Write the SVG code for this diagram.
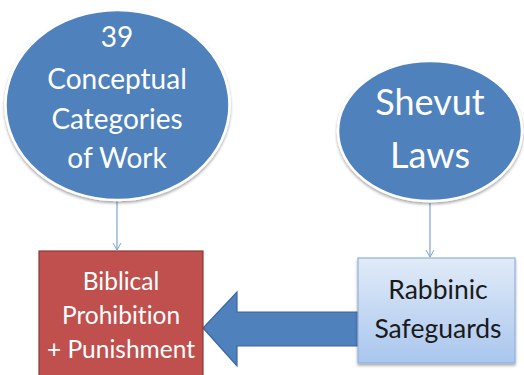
<svg xmlns="http://www.w3.org/2000/svg" width="524" height="375" viewBox="0 0 524 375">
  <defs>
    <linearGradient id="lb" x1="0" y1="0" x2="0" y2="1">
      <stop offset="0" stop-color="#e1ebf8"/>
      <stop offset="1" stop-color="#a9c6ee"/>
    </linearGradient>
    <filter id="sh" x="-10%" y="-10%" width="120%" height="125%">
      <feGaussianBlur in="SourceAlpha" stdDeviation="1.5"/>
      <feOffset dx="0" dy="2"/>
      <feComponentTransfer><feFuncA type="linear" slope="0.35"/></feComponentTransfer>
      <feMerge><feMergeNode/><feMergeNode in="SourceGraphic"/></feMerge>
    </filter>
    <marker id="ah" markerWidth="10" markerHeight="10" refX="8" refY="5" orient="auto" markerUnits="userSpaceOnUse">
      <path d="M1,1 L8,5 L1,9" fill="none" stroke="#7ea3d3" stroke-width="1"/>
    </marker>
  </defs>
  <style>
    text { font-variant-ligatures: none; font-feature-settings: "liga" 0, "clig" 0; }
    .ell { fill: #4f81bd; stroke: #ffffff; stroke-width: 2.5; }
    .wt { fill: #ffffff; font-family: Lato, "Open Sans", sans-serif; text-anchor: middle; }
    .dk { fill: #1a1a1a; font-family: Lato, "Open Sans", sans-serif; text-anchor: middle; }
    .con { stroke: #7ea3d3; stroke-width: 1.2; fill: none; }
  </style>
  <rect width="524" height="375" fill="#ffffff"/>

  <g id="connectors">
    <line class="con" x1="117" y1="201" x2="117" y2="250" marker-end="url(#ah)"/>
    <line class="con" x1="430" y1="203" x2="430" y2="257" marker-end="url(#ah)"/>
    <path d="M358,312 L237,312 L237,292 L203,328 L237,366 L237,346 L358,346 Z" fill="#4f81bd" stroke="#3b679c" stroke-width="1.2"/>
  </g>

  <g id="node-39">
    <ellipse class="ell" cx="117.5" cy="105" rx="112" ry="95" filter="url(#sh)"/>
    <text class="wt" font-size="28" x="117" y="47">39</text>
    <text class="wt" font-size="28" x="117" y="89">Conceptual</text>
    <text class="wt" font-size="28" x="117" y="129">Categories</text>
    <text class="wt" font-size="28" x="117" y="168">of Work</text>
  </g>

  <g id="node-shevut">
    <ellipse class="ell" cx="430" cy="131" rx="92" ry="70" filter="url(#sh)"/>
    <text class="wt" font-size="36" x="430" y="115">Shevut</text>
    <text class="wt" font-size="36" x="430" y="168">Laws</text>
  </g>

  <g id="node-biblical">
    <rect x="39" y="251" width="164" height="130" fill="#c0504d" stroke="#8c3a38" stroke-width="1.2"/>
    <text class="wt" font-size="24.5" x="121" y="290">Biblical</text>
    <text class="wt" font-size="24.5" x="121" y="324">Prohibition</text>
    <text class="wt" font-size="24.5" x="121" y="358">+ Punishment</text>
  </g>

  <g id="node-rabbinic">
    <rect x="358" y="258" width="157" height="105" fill="url(#lb)" stroke="#93b1da" stroke-width="1.2" filter="url(#sh)"/>
    <text class="dk" font-size="26.5" x="438" y="299">Rabbinic</text>
    <text class="dk" font-size="26.5" x="438" y="338">Safeguards</text>
  </g>
</svg>
